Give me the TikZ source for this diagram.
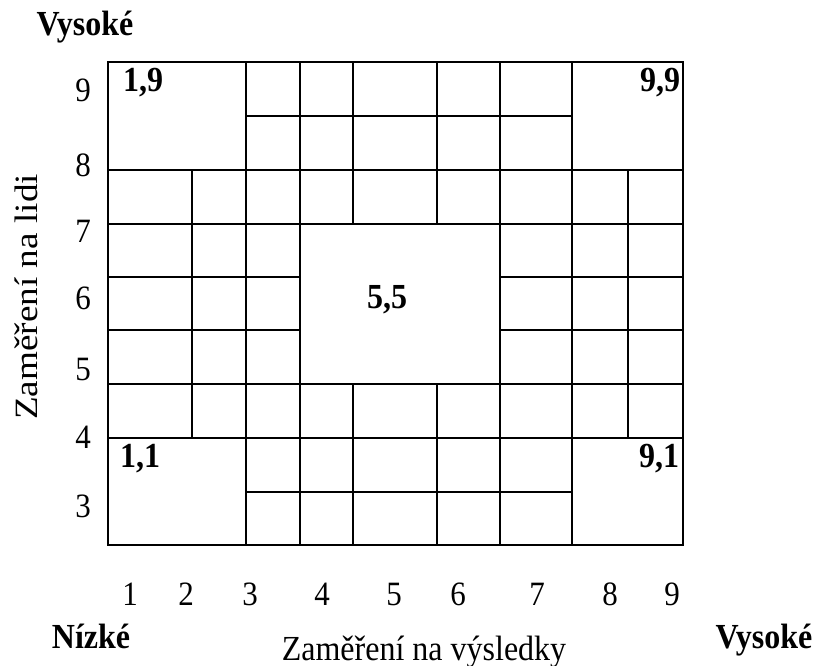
\documentclass[tikz,border=0pt]{standalone}
\usepackage{fontspec}
\setmainfont{Liberation Serif}
\newcommand{\vstr}[1]{\scalebox{1}[1.1]{#1}}
\begin{document}
\begin{tikzpicture}[x=1pt,y=-1pt,
  gridline/.style={line width=2.4pt, line cap=rect},
  lab/.style={font=\fontsize{31}{36}\selectfont, inner sep=0pt, anchor=base},
  blab/.style={font=\fontsize{32}{36}\selectfont\bfseries, inner sep=0pt, anchor=base}]
\useasboundingbox (0,0) rectangle (817,666);
% outer frame
\draw[gridline] (108,62) rectangle (683,545);
% full horizontal lines
\foreach \y in {170,224,384,438} \draw[gridline] (108,\y) -- (683,\y);
% partial horizontal lines
\draw[gridline] (246,116) -- (572,116);
\draw[gridline] (246,492) -- (572,492);
\foreach \y in {277,330} {
  \draw[gridline] (108,\y) -- (300,\y);
  \draw[gridline] (500,\y) -- (683,\y);
}
% vertical lines
\foreach \x in {246,300,500,572} \draw[gridline] (\x,62) -- (\x,545);
\foreach \x in {192,628} \draw[gridline] (\x,170) -- (\x,438);
\foreach \x in {353,437} {
  \draw[gridline] (\x,62) -- (\x,224);
  \draw[gridline] (\x,384) -- (\x,545);
}
% cell labels
\node[blab] (c19) at (143,92) {\vstr{1,9}};
\node[blab] (c99) at (660,92) {\vstr{9,9}};
\node[blab] (c11) at (140,467) {\vstr{1,1}};
\node[blab] (c91) at (659,467) {\vstr{9,1}};
\node[blab] (c55) at (387,308) {\vstr{5,5}};
% y axis numbers
\node[lab] (y9) at (83,102) {\vstr{9}};
\node[lab] (y8) at (83,177) {\vstr{8}};
\node[lab] (y7) at (83,242) {\vstr{7}};
\node[lab] (y6) at (83,309) {\vstr{6}};
\node[lab] (y5) at (83,380) {\vstr{5}};
\node[lab] (y4) at (83,448) {\vstr{4}};
\node[lab] (y3) at (83,517) {\vstr{3}};
% x axis numbers
\node[lab] (x1) at (130,605) {\vstr{1}};
\node[lab] (x2) at (186,605) {\vstr{2}};
\node[lab] (x3) at (250,605) {\vstr{3}};
\node[lab] (x4) at (322,605) {\vstr{4}};
\node[lab] (x5) at (394,605) {\vstr{5}};
\node[lab] (x6) at (458,605) {\vstr{6}};
\node[lab] (x7) at (537,605) {\vstr{7}};
\node[lab] (x8) at (610,605) {\vstr{8}};
\node[lab] (x9) at (672,605) {\vstr{9}};
% axis titles
\node[blab] (hightop) at (85,36) {\vstr{Vysoké}};
\node[blab] (low) at (91,648) {\vstr{Nízké}};
\node[blab] (highright) at (764,648) {\vstr{Vysoké}};
\node[lab] (xtitle) at (424,660) {\fontsize{32}{36}\selectfont\vstr{Zaměření na výsledky}};
\node[lab, rotate=90] (ytitle) at (37,297) {\scalebox{1.2}[1.05]{Zaměření na lidi}};
\end{tikzpicture}
\end{document}
